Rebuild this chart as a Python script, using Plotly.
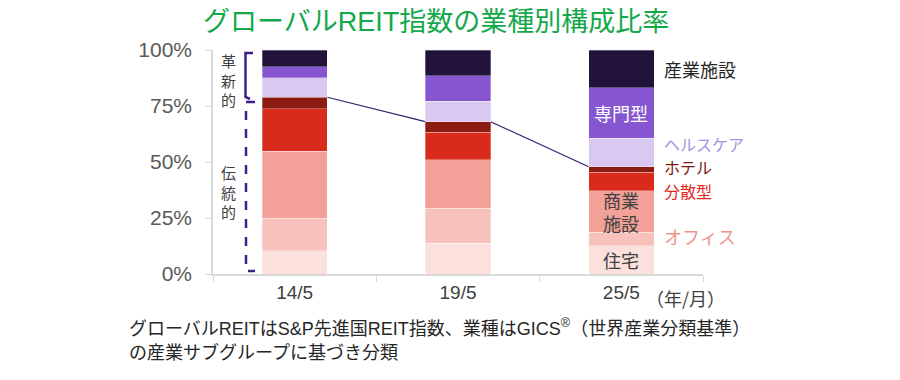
import plotly.graph_objects as go

# ---------------- data ----------------
periods = ["14/5", "19/5", "25/5"]
sectors = ["住宅", "オフィス", "商業施設", "分散型", "ホテル", "ヘルスケア", "専門型", "産業施設"]
residential = [10.4, 13.7, 12.6]
office = [14.5, 15.6, 6.0]
retail = [30.0, 21.6, 18.6]
diversified = [18.8, 12.4, 8.2]
hotel = [5.2, 4.7, 2.5]
healthcare = [8.7, 9.2, 12.7]
specialty = [4.9, 11.2, 22.6]
industrial = [7.5, 11.6, 16.8]
y_ticks = [0, 25, 50, 75, 100]
y_tick_labels = ["0%", "25%", "50%", "75%", "100%"]

series = [residential, office, retail, diversified, hotel, healthcare, specialty, industrial]
colors = ["#fbe0dc", "#f6c2bb", "#f2a098", "#d92b1c", "#8c1b12", "#d9c9f1", "#8656d1", "#22133b"]
n_traditional = 5  # first five sectors are "traditional"

FONT = "Liberation Sans, Noto Sans CJK JP"
JP = "Noto Sans CJK JP, Liberation Sans"

# the page body has an 8px margin; work in page pixels and shift
OFF = 8
W, H = 900 - OFF, 380 - OFF
# plot-area geometry in page pixels
L, R, T, B = 213, 703, 50, 274


def px_x(px):
    return (px - L) / (R - L)


def px_y(py):
    return (B - py) / (B - T)


fig = go.Figure()
for name, vals, col in zip(sectors, series, colors):
    fig.add_trace(go.Bar(
        x=periods, y=vals, name=name, width=0.4,
        marker=dict(color=col, line=dict(color="rgba(255,255,255,0.6)", width=0.5)),
        hoverinfo="x+y+name", showlegend=False,
    ))

# cumulative boundaries
cums = []
for i in range(len(periods)):
    c = [0.0]
    for s in series:
        c.append(c[-1] + s[i])
    cums.append(c)

# connector line between traditional/innovative boundaries
shapes = []
for i in range(len(periods) - 1):
    shapes.append(dict(type="line", xref="x", yref="y",
                       x0=i + 0.2, y0=cums[i][n_traditional],
                       x1=i + 0.8, y1=cums[i + 1][n_traditional],
                       line=dict(color="#2c2470", width=1.2), layer="below"))

# brackets
br_col = "#3d1f8e"
shapes.append(dict(type="path", xref="paper", yref="paper",
                   path=f"M {px_x(253)} {px_y(53)} L {px_x(245.5)} {px_y(53)} L {px_x(245.5)} {px_y(97)} L {px_x(250)} {px_y(99)}",
                   line=dict(color=br_col, width=2.5)))
shapes.append(dict(type="path", xref="paper", yref="paper",
                   path=f"M {px_x(255)} {px_y(102)} L {px_x(246)} {px_y(102)} L {px_x(246)} {px_y(271)} L {px_x(255)} {px_y(271)}",
                   line=dict(color=br_col, width=2.5, dash="dash")))

ann = []
# vertical labels (stacked characters)
for word, yc in [("革新的", 80), ("伝統的", 192)]:
    ann.append(dict(text="<br>".join(word), xref="paper", yref="paper", x=px_x(228), y=px_y(yc),
                    showarrow=False, xanchor="center", yanchor="middle", borderpad=0,
                    font=dict(family=JP, size=15, color="#404040")))

last = len(periods) - 1
c3 = cums[last]


def mid(k):
    return (c3[k] + c3[k + 1]) / 2


# labels inside the last bar
ann.append(dict(text="専門型", x=last, y=mid(6), xref="x", yref="y", showarrow=False,
                font=dict(family=JP, size=18, color="white")))
ann.append(dict(text="商業<br>施設", x=last, y=mid(2), xref="x", yref="y", showarrow=False,
                font=dict(family=JP, size=18, color="#404040")))
ann.append(dict(text="住宅", x=last, y=mid(0), xref="x", yref="y", showarrow=False,
                font=dict(family=JP, size=18, color="#404040")))

# labels to the right
right_labels = [("産業施設", 7, "#262626", 0, 18), ("ヘルスケア", 5, "#a592e2", 8, 16),
                ("ホテル", 4, "#7c1a10", 3, 16), ("分散型", 3, "#e3251b", -10, 16),
                ("オフィス", 1, "#f0928a", 3, 18)]
for txt, k, col, ys, fs in right_labels:
    ann.append(dict(text=txt, x=px_x(663), y=mid(k), xref="paper", yref="y", showarrow=False,
                    xanchor="left", yanchor="middle", yshift=ys, borderpad=0,
                    font=dict(family=JP, size=fs, color=col)))

ann.append(dict(text="（年/月）", x=px_x(685), y=px_y(298), xref="paper", yref="paper",
                showarrow=False, xanchor="center", yanchor="middle",
                font=dict(family=JP, size=18, color="#404040")))

# title
ann.append(dict(text="グローバルREIT指数の業種別構成比率", x=px_x(436), y=px_y(22),
                xref="paper", yref="paper", showarrow=False, xanchor="center", yanchor="middle",
                font=dict(family=FONT, size=27, color="#14a84a")))

# footnote
ann.append(dict(text="グローバルREITはS&P先進国REIT指数、業種はGICS<sup>®</sup>（世界産業分類基準）",
                x=px_x(127), y=px_y(327), xref="paper", yref="paper", showarrow=False,
                xanchor="left", yanchor="middle", font=dict(family=FONT, size=18, color="#262626")))
ann.append(dict(text="の産業サブグループに基づき分類",
                x=px_x(127), y=px_y(352), xref="paper", yref="paper", showarrow=False,
                xanchor="left", yanchor="middle", font=dict(family=FONT, size=18, color="#262626")))

fig.update_layout(
    width=W, height=H,
    margin=dict(l=L - OFF, r=W - (R - OFF), t=T - OFF, b=H - (B - OFF), pad=0),
    barmode="stack", bargap=0.6,
    plot_bgcolor="white", paper_bgcolor="white",
    shapes=shapes, annotations=ann,
    font=dict(family=FONT),
    xaxis=dict(type="category", range=[-0.5, 2.5], showline=True, linecolor="#d9d9d9", linewidth=1.5,
               ticks="outside", tickson="boundaries", ticklen=6, tickcolor="#d9d9d9",
               showgrid=False, tickfont=dict(family=FONT, size=19, color="#404040")),
    yaxis=dict(range=[0, 100], tickvals=y_ticks, ticktext=y_tick_labels, showline=True,
               linecolor="#d9d9d9", linewidth=1.5, ticks="outside", ticklen=6, tickcolor="#d9d9d9",
               showgrid=False, zeroline=False, ticklabelstandoff=9,
               tickfont=dict(family=FONT, size=21, color="#595959")),
)

fig.write_html("out.html")
